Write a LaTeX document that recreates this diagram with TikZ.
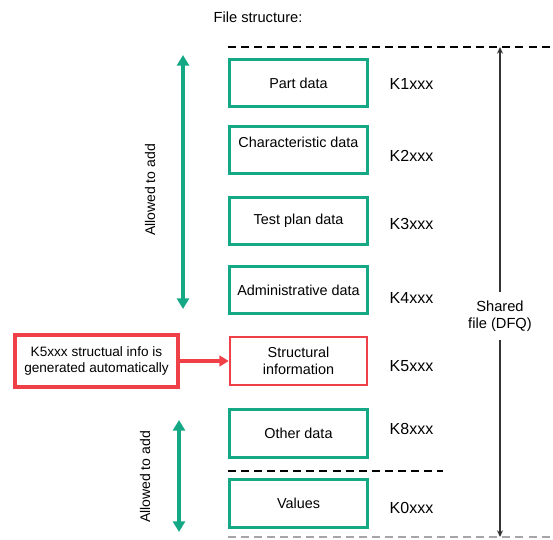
\documentclass[tikz,border=0pt]{standalone}
\usepackage{fontspec}
\setmainfont{Liberation Sans}
\usetikzlibrary{arrows.meta,positioning,shadows}
\definecolor{vertbloc}{RGB}{20,168,132}
\definecolor{rougebloc}{RGB}{239,64,72}

\begin{document}
\begin{tikzpicture}[x=0.75pt,y=-0.75pt,
  bloc/.style={rectangle,draw=vertbloc,line width=2.1pt,fill=white,minimum width=103pt,minimum height=35.5pt,
    align=center,font=\fontsize{10.8}{12.8}\selectfont,
    drop shadow={shadow xshift=0.8pt,shadow yshift=-0.8pt,opacity=0.35}},
  code/.style={anchor=west,font=\fontsize{12}{14}\selectfont},
  fleche/.style={draw=vertbloc,line width=3pt,{Triangle[length=8pt,width=9pt]}-{Triangle[length=8pt,width=9pt]}},
  trait/.style={line width=1.5pt,dash pattern=on 6pt off 3.8pt}]
\useasboundingbox (0,0) rectangle (553,539);

% titre
\node (TIT) at (258,17) {\fontsize{11}{13}\selectfont File structure:};

% description et nommage des blocs
\node[bloc] (PD) at (298.5,83) {Part data};
\node[bloc,text depth=12pt] (CD) at (298.5,150) {Characteristic data};
\node[bloc] (TP) at (298.5,221) {Test plan data};
\node[bloc] (AD) at (298.5,290) {Administrative data};
\node[bloc,draw=rougebloc,line width=1.6pt] (SI) at (298.5,361) {Structural\\information};
\node[bloc] (OD) at (298.5,433.5) {Other data};
\node[bloc] (VA) at (298.5,503.5) {Values};

% codes K
\node[code] (K1) at (385,84) {K1xxx};
\node[code] (K2) at (385,156) {K2xxx};
\node[code] (K3) at (385,224) {K3xxx};
\node[code] (K4) at (385,298) {K4xxx};
\node[code] (K5) at (385,366) {K5xxx};
\node[code] (K8) at (385,429) {K8xxx};
\node[code] (K0) at (385,508) {K0xxx};

% bloc rouge et sa fleche
\node[rectangle,draw=rougebloc,line width=3pt,fill=white,minimum width=122pt,minimum height=38.5pt,
  align=center,font=\fontsize{10.2}{12.5}\selectfont,
  drop shadow={shadow xshift=0.9pt,shadow yshift=-0.9pt,opacity=0.3}] (K5I) at (96.5,361)
  {K5xxx structual info is\\generated automatically};
\draw[rougebloc,line width=2.4pt,-{Triangle[length=7pt,width=8pt]}] (K5I) -- (SI);

% lignes pointillees
\coordinate (HG) at (228,47);
\coordinate (HD) at (553,47);
\coordinate (MG) at (228,471);
\coordinate (MD) at (443,471);
\coordinate (BG) at (228,537);
\coordinate (BD) at (553,537);
\draw[trait] (HG) -- (HD);
\draw[trait] (MG) -- (MD);
\draw[trait,gray!70] (BG) -- (BD);

% fichier partage
\coordinate (FH) at (500,47);
\coordinate (FB) at (500,537);
\node[align=center,inner sep=6pt,font=\fontsize{11}{13}\selectfont] (DFQ) at (500,316) {Shared\\file (DFQ)};
\draw[black!80,line width=1pt,-{Stealth[length=5pt,width=4.5pt]}] (DFQ) -- (FH);
\draw[black!80,line width=1pt,-{Stealth[length=5pt,width=4.5pt]}] (DFQ) -- (FB);

% fleches vertes
\coordinate (A1) at (183,55);
\coordinate (A2) at (183,309);
\coordinate (A3) at (179,420);
\coordinate (A4) at (179,532);
\draw[fleche] (A1) -- (A2);
\draw[fleche] (A3) -- (A4);
\node[rotate=90,font=\fontsize{10.5}{12}\selectfont] (AJ1) at (150,190) {Allowed to add};
\node[rotate=90,font=\fontsize{10.5}{12}\selectfont] (AJ2) at (145,477) {Allowed to add};
\end{tikzpicture}
\end{document}
